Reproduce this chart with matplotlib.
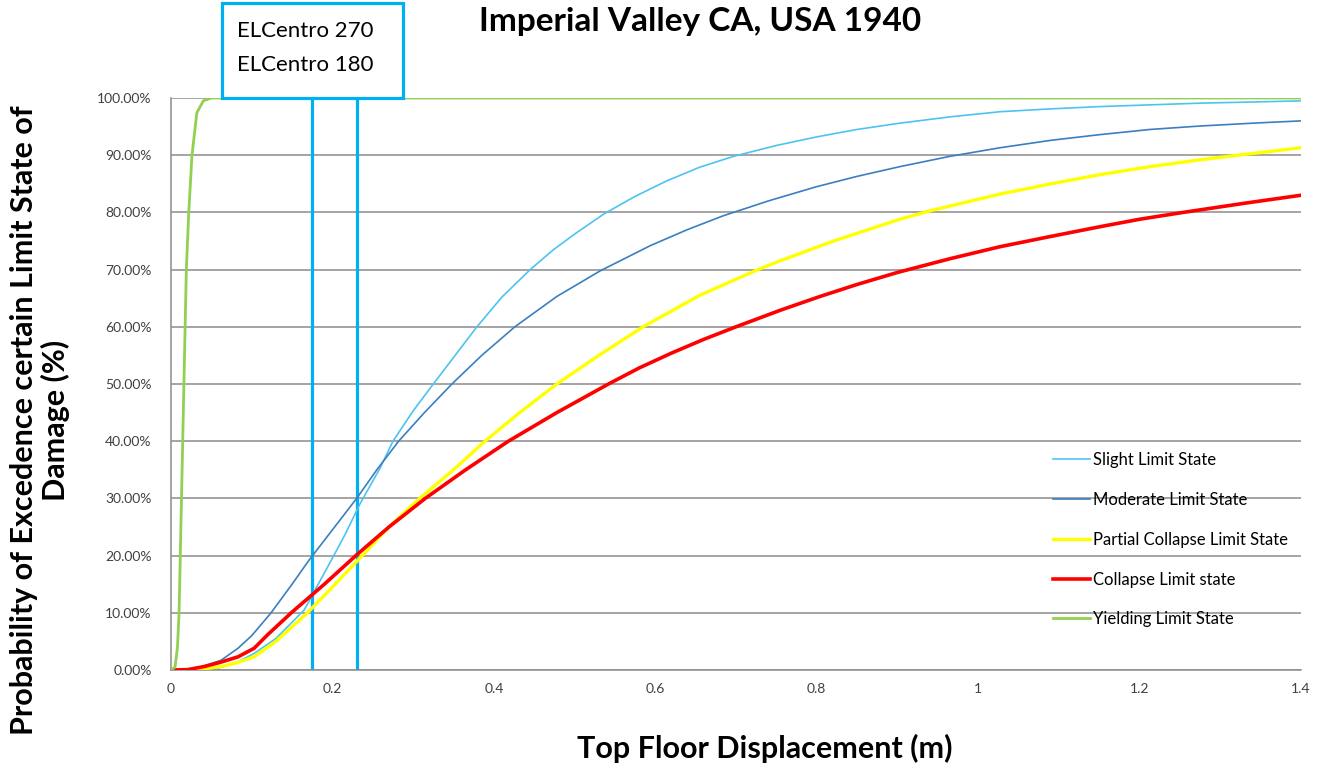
import matplotlib.pyplot as plt
from matplotlib.patches import Rectangle
from matplotlib.ticker import FuncFormatter

plt.rcParams['font.family'] = ['Lato', 'DejaVu Sans']

# values (x in m, y in %)
slight_x = [0, 0.04, 0.06, 0.08, 0.103, 0.13, 0.165, 0.194, 0.215, 0.234, 0.259,
            0.275, 0.300, 0.325, 0.352, 0.379, 0.410, 0.445, 0.474, 0.500, 0.536,
            0.575, 0.614, 0.655, 0.697, 0.75, 0.800, 0.850, 0.903, 0.965, 1.027,
            1.09, 1.151, 1.213, 1.275, 1.34, 1.4]
slight_y = [0, 0.1, 0.4, 1.2, 2.9, 5.5, 10.5, 18, 23.5, 29, 35.3,
            40, 45.3, 50, 55, 60, 65.2, 70, 73.5, 76.2, 79.7,
            82.8, 85.5, 87.9, 89.8, 91.7, 93.2, 94.5, 95.6, 96.7, 97.6,
            98.1, 98.5, 98.8, 99.1, 99.3, 99.5]

moderate_x = [0, 0.03, 0.062, 0.083, 0.10, 0.124, 0.150, 0.171, 0.20, 0.23, 0.255,
              0.282, 0.314, 0.348, 0.385, 0.426, 0.478, 0.532, 0.594, 0.640, 0.684,
              0.740, 0.800, 0.850, 0.903, 0.965, 1.027, 1.09, 1.151, 1.213, 1.275,
              1.34, 1.4]
moderate_y = [0, 0.2, 1.7, 3.8, 6.0, 10, 15, 19.2, 24.5, 30, 35,
              40, 45, 50, 55, 60, 65.3, 69.8, 74.2, 77.0, 79.4,
              82.0, 84.5, 86.3, 88.0, 89.8, 91.3, 92.6, 93.6, 94.5, 95.1,
              95.6, 96.0]

partial_x = [0, 0.04, 0.062, 0.08, 0.103, 0.13, 0.169, 0.20, 0.237, 0.27, 0.308,
             0.35, 0.389, 0.432, 0.478, 0.530, 0.585, 0.655, 0.727, 0.754, 0.821,
             0.903, 0.941, 1.027, 1.09, 1.151, 1.213, 1.275, 1.316, 1.4]
partial_y = [0, 0.2, 0.6, 1.2, 2.3, 5, 10, 14.5, 20, 25, 30,
             35, 40, 45, 50, 55, 60, 65.5, 70, 71.5, 75,
             78.8, 80.3, 83.2, 85.0, 86.6, 88.0, 89.2, 89.9, 91.3]

collapse_x = [0, 0.02, 0.041, 0.06, 0.083, 0.103, 0.12, 0.149, 0.19, 0.229, 0.27,
              0.315, 0.365, 0.418, 0.478, 0.542, 0.58, 0.62, 0.66, 0.70, 0.755,
              0.804, 0.85, 0.90, 0.965, 1.027, 1.09, 1.151, 1.20, 1.254, 1.33, 1.4]
collapse_y = [0, 0.05, 0.6, 1.3, 2.3, 3.8, 6.2, 10, 15, 20, 25,
              30, 35, 40, 45, 50, 52.8, 55.4, 57.8, 60, 62.9,
              65.3, 67.4, 69.5, 71.9, 74, 75.8, 77.5, 78.8, 80, 81.6, 83]

yielding_x = [0, 0.005, 0.008, 0.010, 0.013, 0.016, 0.019, 0.022, 0.026,
              0.032, 0.04, 0.05, 1.4]
yielding_y = [0, 0.5, 4, 10, 30, 50, 70, 80, 90,
              97.4, 99.5, 100, 100]

elcentro_disp = [0.175, 0.23]
elcentro_names = ['ELCentro 270', 'ELCentro 180']

fig = plt.figure(figsize=(13.23, 7.68), dpi=100)
ax = fig.add_axes([171 / 1323, 1 - 670 / 768, 1130 / 1323, 572 / 768])

grid_col = '#8c8c8c'
for v in elcentro_disp:
    ax.axvline(v, color='#00b0f0', lw=2.3, zorder=2)

ax.plot(slight_x, slight_y, color='#4dc3f0', lw=1.2, label='Slight Limit State', zorder=3)
ax.plot(moderate_x, moderate_y, color='#3a7fc1', lw=1.2, label='Moderate Limit State', zorder=3)
ax.plot(partial_x, partial_y, color='#ffff00', lw=2.4, label='Partial Collapse Limit State', zorder=3)
ax.plot(collapse_x, collapse_y, color='#ff0000', lw=2.6, label='Collapse Limit state', zorder=3)
ax.plot(yielding_x, yielding_y, color='#92d050', lw=2.0, label='Yielding Limit State', zorder=4)

ax.set_xlim(0, 1.4)
ax.set_ylim(0, 100)
ax.set_yticks(range(0, 101, 10))
ax.set_xticks([0, 0.2, 0.4, 0.6, 0.8, 1.0, 1.2, 1.4])
ax.yaxis.set_major_formatter(FuncFormatter(lambda v, p: f'{v:.2f}%'))
ax.xaxis.set_major_formatter(FuncFormatter(lambda v, p: f'{v:g}'))
ax.tick_params(length=0, labelsize=10, colors='#404040')
ax.tick_params(axis='y', pad=14)
ax.tick_params(axis='x', pad=9.5)
ax.grid(axis='y', color=grid_col, lw=1.1, zorder=1)
ax.set_axisbelow(True)
for s in ['top', 'right']:
    ax.spines[s].set_visible(False)
for s in ['left', 'bottom']:
    ax.spines[s].set_color(grid_col)
    ax.spines[s].set_linewidth(1.1)

ax.legend(loc='upper left', bbox_to_anchor=(1053 / 1323, 1 - 452 / 768),
          bbox_transform=fig.transFigure, frameon=False, fontsize=12,
          handlelength=2.2, handletextpad=0.18, labelspacing=1.43,
          borderpad=0, borderaxespad=0)

# annotation box for the two records
fig.patches.append(Rectangle((222 / 1323, 1 - 98 / 768), 181 / 1323, 95 / 768,
                             transform=fig.transFigure, fill=True, facecolor='white',
                             edgecolor='#00b0f0', lw=2.3, zorder=5))
for i, name in enumerate(elcentro_names):
    fig.text(237 / 1323, 1 - (31 + 34 * i) / 768, name, fontsize=16,
             va='center', ha='left', zorder=6)

fig.text(700 / 1323, 1 - 22 / 768, 'Imperial Valley CA, USA 1940',
         fontsize=24, fontweight='bold', ha='center', va='center')
fig.text(765 / 1323, 1 - 748 / 768, 'Top Floor Displacement (m)',
         fontsize=22, fontweight='bold', ha='center', va='center')
fig.text(40 / 1323, 1 - 420 / 768,
         'Probability of Excedence certain Limit State of\nDamage (%)',
         fontsize=22, fontweight='bold', ha='center', va='center',
         rotation=90, multialignment='center', linespacing=1.1)

fig.savefig('out.png', dpi=100)
